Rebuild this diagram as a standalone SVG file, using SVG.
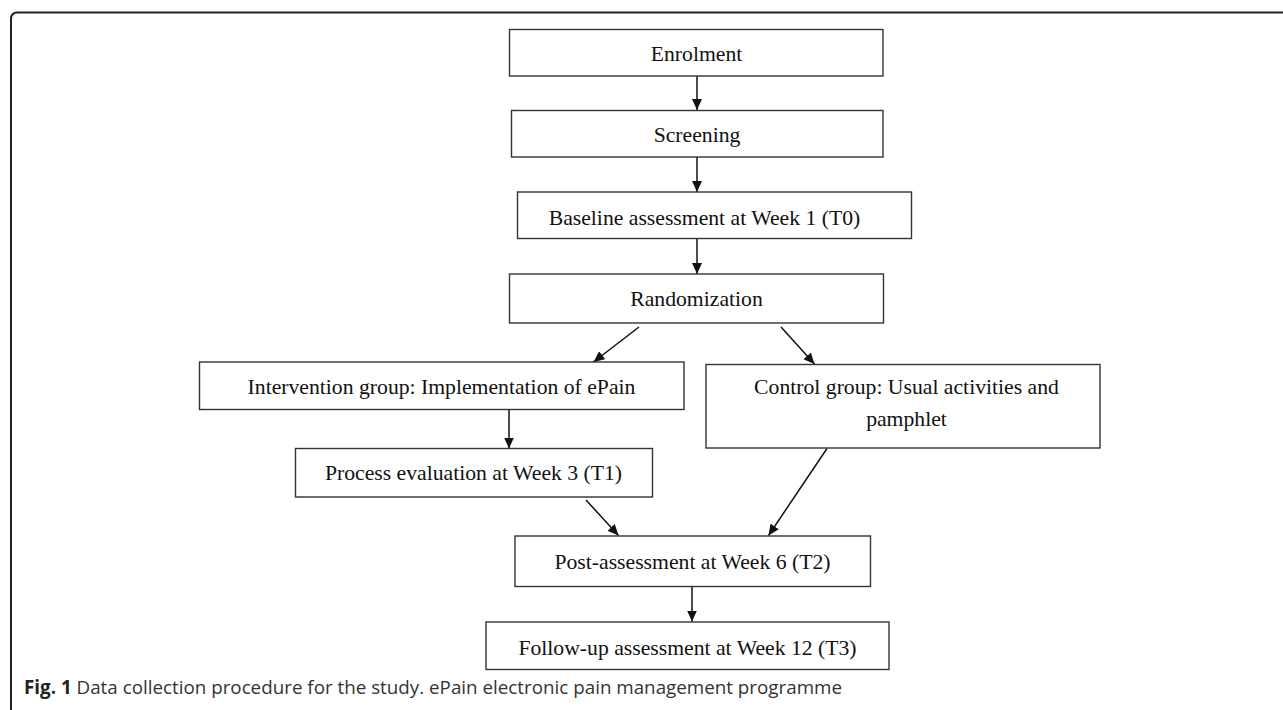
<svg xmlns="http://www.w3.org/2000/svg" width="1283" height="710" viewBox="0 0 1283 710">
<style>
.box{fill:#fff;stroke:#333;stroke-width:1.4}
.t{font-family:"Liberation Serif","Times New Roman",serif;font-size:21.7px;fill:#111;text-anchor:middle}
.c{stroke:#111;stroke-width:1.5;fill:none;marker-end:url(#ah)}
.cap{font-family:"Open Sans","Noto Sans",sans-serif;font-size:18.8px;fill:#333}
</style>
<defs>
<marker id="ah" markerUnits="userSpaceOnUse" markerWidth="12" markerHeight="10" refX="11" refY="5" orient="auto">
<path d="M0,0 L11,5 L0,10 z" fill="#111"/>
</marker>
</defs>
<rect width="1283" height="710" fill="#fff"/>
<path d="M11,710 V19 Q11,12.5 17.5,12.5 H1283" fill="none" stroke="#222" stroke-width="2"/>
<g id="connectors">
<line class="c" x1="697" y1="76" x2="697" y2="110"/>
<line class="c" x1="697" y1="157" x2="697" y2="192"/>
<line class="c" x1="697" y1="239" x2="697" y2="274"/>
<line class="c" x1="639" y1="327" x2="593.5" y2="362"/>
<line class="c" x1="781" y1="327" x2="814.5" y2="364"/>
<line class="c" x1="509" y1="409.5" x2="509" y2="448.5"/>
<line class="c" x1="586" y1="500" x2="618.5" y2="535.5"/>
<line class="c" x1="827" y1="448.5" x2="768.5" y2="535.5"/>
<line class="c" x1="692" y1="587" x2="692" y2="621.5"/>
</g>
<g id="enrolment">
<rect class="box" x="509.5" y="29.5" width="373.5" height="46.5"/>
<text class="t" x="696.5" y="61">Enrolment</text>
</g>
<g id="screening">
<rect class="box" x="511.5" y="110.5" width="371.5" height="46.5"/>
<text class="t" x="697" y="142">Screening</text>
</g>
<g id="baseline">
<rect class="box" x="517.5" y="192" width="394" height="46.5"/>
<text class="t" x="704.5" y="225">Baseline assessment at Week 1 (T0)</text>
</g>
<g id="randomization">
<rect class="box" x="509.5" y="274" width="374" height="49"/>
<text class="t" x="696.5" y="306">Randomization</text>
</g>
<g id="intervention">
<rect class="box" x="199.5" y="362" width="484.5" height="47.5"/>
<text class="t" x="441.5" y="394">Intervention group: Implementation of ePain</text>
</g>
<g id="control">
<rect class="box" x="706" y="364.5" width="394" height="83.5"/>
<text class="t" x="906.5" y="393.5">Control group: Usual activities and</text>
<text class="t" x="906.5" y="425.5">pamphlet</text>
</g>
<g id="process">
<rect class="box" x="295.5" y="448.5" width="357" height="48.5"/>
<text class="t" x="473.5" y="480">Process evaluation at Week 3 (T1)</text>
</g>
<g id="post">
<rect class="box" x="515" y="536" width="355.5" height="50.5"/>
<text class="t" x="692.5" y="569">Post-assessment at Week 6 (T2)</text>
</g>
<g id="followup">
<rect class="box" x="486" y="622" width="403" height="47.5"/>
<text class="t" x="687.5" y="655">Follow-up assessment at Week 12 (T3)</text>
</g>
<text class="cap" x="24" y="694" textLength="818"><tspan font-weight="bold" fill="#222">Fig. 1</tspan> Data collection procedure for the study. ePain electronic pain management programme</text>
</svg>
